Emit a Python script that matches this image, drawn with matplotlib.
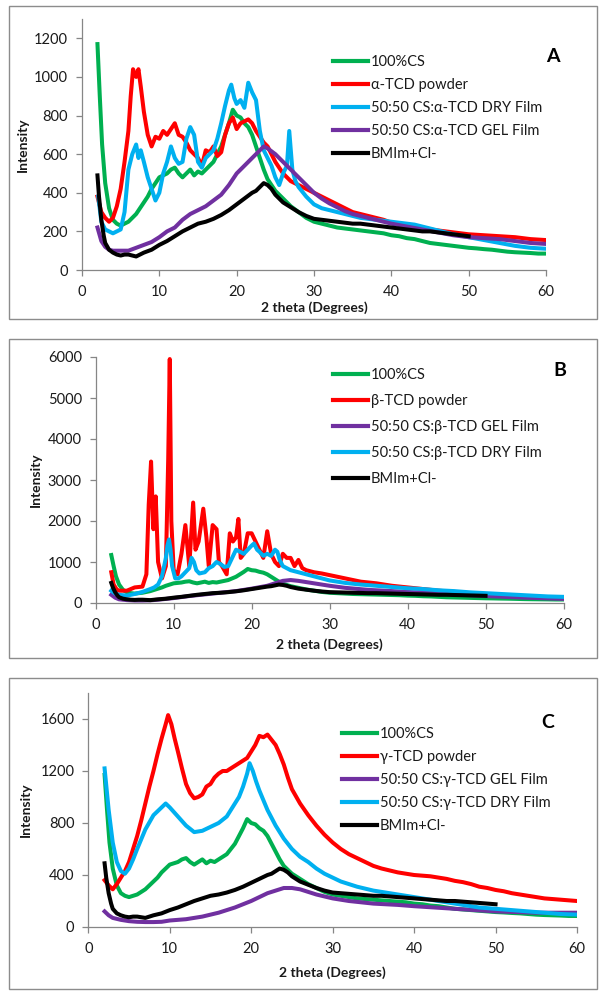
import matplotlib
matplotlib.use('Agg')
import matplotlib.pyplot as plt
from matplotlib.patches import Rectangle

plt.rcParams['font.family'] = ['Lato', 'DejaVu Sans']

# ---------------- data ----------------
# 100% chitosan (same trace in all panels)
cs_x = [2, 2.3, 2.6, 3, 3.5, 4, 4.5, 5, 5.5, 6,
        6.5, 7, 7.5, 8, 8.5, 9, 9.5, 10, 10.5, 11,
        11.5, 12, 12.5, 13, 13.5, 14, 14.5, 15, 15.5, 16,
        16.5, 17, 17.5, 18, 18.5, 19, 19.5, 20, 20.5, 21,
        21.5, 22, 22.5, 23, 23.5, 24, 24.5, 25, 26, 27,
        28, 29, 30, 31, 32, 33, 34, 35, 36, 37,
        38, 39, 40, 41, 42, 43, 44, 45, 46, 47,
        48, 49, 50, 51, 52, 53, 54, 55, 56, 57,
        58, 59, 60]
cs_y = [1170, 900, 650, 450, 320, 260, 240, 230, 240, 250,
        270, 290, 320, 350, 380, 420, 450, 480, 490, 500,
        520, 530, 500, 480, 500, 520, 490, 510, 500, 520,
        540, 560, 600, 640, 700, 760, 830, 800, 790, 760,
        740, 700, 640, 580, 520, 470, 440, 410, 370, 330,
        300, 270, 250, 240, 230, 220, 215, 210, 205, 200,
        195, 190, 180, 175, 165, 160, 150, 140, 135, 130,
        125, 120, 115, 112, 108, 105, 100, 95, 92, 90,
        88, 85, 85]

# BMIm+Cl- (same trace in all panels)
bm_x = [2, 2.2, 2.5, 2.8, 3, 3.5, 4, 4.5, 5, 5.5,
        6, 6.5, 7, 7.5, 8, 9, 10, 11, 12, 13,
        14, 15, 16, 17, 18, 19, 20, 21, 22, 22.5,
        23, 23.5, 24, 24.5, 25, 26, 27, 28, 29, 30,
        31, 32, 33, 34, 35, 36, 37, 38, 39, 40,
        41, 42, 43, 44, 45, 46, 47, 48, 49, 50]
bm_y = [490, 380, 260, 180, 140, 105, 90, 80, 75, 80,
        80, 75, 70, 80, 90, 105, 130, 150, 175, 200,
        220, 240, 250, 265, 285, 310, 340, 370, 400, 410,
        430, 450, 440, 420, 390, 350, 325, 300, 280, 265,
        260, 255, 250, 245, 240, 240, 235, 230, 225, 220,
        215, 210, 205, 200, 200, 195, 190, 185, 180, 175]

# Panel A
a_red_x = [2, 2.5, 3, 3.5, 4, 4.5, 5, 5.5, 6, 6.3,
           6.6, 7, 7.3, 7.6, 8, 8.5, 9, 9.5, 10, 10.5,
           11, 11.5, 12, 12.5, 13, 13.5, 14, 14.5, 15, 15.5,
           16, 16.5, 17, 17.5, 18, 18.5, 19, 19.5, 20, 20.5,
           21, 21.5, 22, 22.5, 23, 23.5, 24, 24.5, 25, 26,
           27, 28, 29, 30, 31, 32, 33, 34, 35, 36,
           37, 38, 39, 40, 41, 42, 43, 44, 45, 46,
           47, 48, 49, 50, 52, 54, 56, 58, 60]
a_red_y = [380, 300, 270, 250, 270, 330, 420, 560, 720, 900,
           1040, 1000, 1040, 950, 820, 700, 640, 690, 680, 720,
           700, 730, 760, 700, 690, 660, 620, 600, 580, 540,
           620, 610, 640, 590, 610, 700, 760, 790, 730, 760,
           770, 780, 760, 720, 690, 660, 640, 600, 560, 500,
           460, 440, 420, 400, 380, 360, 340, 320, 300, 290,
           280, 270, 260, 245, 240, 230, 225, 220, 210, 205,
           200, 195, 190, 185, 180, 175, 170, 160, 155]
a_dry_x = [2.1, 2.5, 3, 3.5, 4, 4.5, 5, 5.5, 6, 6.5,
           7, 7.3, 7.6, 8, 8.5, 9, 9.5, 10, 10.5, 11,
           11.5, 12, 12.5, 13, 13.5, 14, 14.5, 15, 15.5, 16,
           16.5, 17, 17.5, 18, 18.5, 19, 19.3, 19.7, 20, 20.5,
           21, 21.5, 22, 22.5, 23, 23.5, 24, 24.5, 25, 25.5,
           26, 26.5, 26.8, 27.2, 27.6, 28, 29, 30, 31, 32,
           33, 34, 35, 36, 37, 38, 39, 40, 41, 42,
           43, 44, 45, 46, 47, 48, 49, 50, 52, 54,
           56, 58, 60]
a_dry_y = [380, 250, 210, 200, 190, 200, 210, 300, 520, 600,
           650, 580, 620, 560, 480, 420, 360, 400, 500, 560,
           640, 580, 550, 560, 680, 740, 700, 560, 530, 580,
           600, 620, 680, 760, 850, 930, 960, 890, 860, 880,
           840, 970, 920, 880, 720, 620, 580, 540, 480, 440,
           500, 540, 720, 520, 460, 430, 380, 340, 320, 310,
           300, 290, 280, 270, 265, 260, 255, 250, 245, 240,
           235, 225, 215, 205, 195, 185, 178, 170, 155, 140,
           125, 115, 110]
a_gel_x = [2, 2.5, 3, 3.5, 4, 5, 6, 7, 8, 9,
           10, 11, 12, 13, 14, 15, 16, 17, 18, 19,
           20, 21, 22, 23, 23.5, 24, 25, 26, 27, 28,
           29, 30, 31, 32, 33, 34, 35, 36, 37, 38,
           39, 40, 42, 44, 46, 48, 50, 52, 54, 56,
           58, 60]
a_gel_y = [220, 150, 120, 105, 100, 100, 100, 115, 130, 145,
           170, 200, 220, 260, 290, 310, 330, 360, 390, 440,
           500, 540, 580, 620, 640, 630, 600, 560, 520, 480,
           440, 400, 370, 345, 325, 305, 290, 280, 270, 260,
           250, 240, 225, 210, 195, 180, 170, 165, 160, 150,
           140, 135]

# Panel B
b_red_x = [2, 2.3, 2.7, 3, 4, 5, 6, 6.5, 6.8, 7.1,
           7.4, 7.7, 8, 8.5, 9, 9.3, 9.5, 9.7, 10, 10.5,
           11, 11.5, 12, 12.5, 12.8, 13.2, 13.5, 13.8, 14.2, 14.5,
           15, 15.5, 15.8, 16.2, 16.8, 17.2, 17.6, 18, 18.3, 18.6,
           19, 19.5, 20, 20.5, 21, 21.5, 22, 22.5, 23, 23.5,
           24, 24.5, 25, 25.5, 26, 26.5, 27, 28, 29, 30,
           31, 32, 33, 34, 35, 36, 38, 40, 42, 44,
           46, 48, 50, 52, 54, 56, 58, 60]
b_red_y = [750, 450, 330, 300, 300, 380, 400, 700, 2400, 3450,
           1800, 2600, 1000, 600, 900, 3500, 5950, 2000, 800, 700,
           1200, 1900, 900, 2450, 1300, 1500, 1900, 2300, 1600, 900,
           1900, 1800, 1000, 900, 700, 1700, 1500, 1600, 2050, 1100,
           1200, 1700, 1700, 1500, 1300, 1100, 1750, 1200, 1000, 900,
           1200, 1100, 1100, 900, 1050, 850, 800, 750, 720, 680,
           640, 600, 560, 520, 500, 480, 420, 380, 340, 300,
           270, 230, 200, 180, 160, 145, 135, 130]
b_gel_x = [2, 2.5, 3, 4, 5, 6, 7, 8, 10, 12,
           14, 16, 18, 20, 22, 23, 24, 25, 26, 27,
           28, 30, 32, 35, 38, 40, 45, 50, 55, 60]
b_gel_y = [200, 130, 90, 70, 60, 60, 65, 80, 120, 170,
           210, 250, 290, 350, 420, 480, 540, 560, 540, 510,
           480, 420, 370, 320, 290, 270, 220, 170, 130, 100]
b_dry_x = [2, 2.5, 3, 4, 5, 6, 7, 7.5, 8, 8.5,
           9, 9.2, 9.4, 9.6, 9.8, 10.2, 10.6, 11, 11.5, 12,
           12.3, 12.6, 12.9, 13.3, 14, 14.5, 15, 15.5, 16, 16.5,
           17, 17.5, 18, 18.5, 19, 19.5, 20, 20.3, 20.7, 21,
           21.5, 22, 22.5, 23, 23.3, 23.6, 24, 25, 26, 27,
           28, 29, 30, 32, 34, 36, 38, 40, 42, 44,
           46, 48, 50, 52, 54, 56, 58, 60]
b_dry_y = [300, 230, 200, 180, 220, 270, 340, 380, 450, 650,
           1100, 1400, 1550, 1300, 900, 600, 600, 650, 750, 850,
           1100, 1000, 800, 720, 750, 850, 900, 1000, 950, 880,
           900, 1100, 1300, 1250, 1200, 1300, 1400, 1450, 1300, 1250,
           1150, 1200, 1150, 1300, 1250, 1050, 900, 800, 750, 700,
           650, 600, 550, 490, 450, 420, 390, 360, 340, 310,
           290, 260, 240, 220, 200, 180, 160, 150]

# Panel C
c_red_x = [2, 2.5, 3, 3.5, 4, 4.5, 5, 5.5, 6, 6.5,
           7, 7.5, 8, 8.5, 9, 9.5, 9.8, 10.2, 10.6, 11,
           11.5, 12, 12.5, 13, 13.5, 14, 14.5, 15, 15.5, 16,
           16.5, 17, 17.5, 18, 18.5, 19, 19.5, 20, 20.5, 21,
           21.5, 22, 22.5, 23, 23.5, 24, 24.5, 25, 26, 27,
           28, 29, 30, 31, 32, 33, 34, 35, 36, 37,
           38, 39, 40, 41, 42, 43, 44, 45, 46, 47,
           48, 49, 50, 51, 52, 53, 54, 55, 56, 57,
           58, 59, 60]
c_red_y = [360, 320, 290, 330, 380, 430, 500, 600, 700, 820,
           950, 1080, 1200, 1330, 1450, 1560, 1630, 1560, 1450, 1350,
           1220, 1100, 1030, 990, 1000, 1020, 1080, 1100, 1150, 1180,
           1200, 1200, 1220, 1240, 1260, 1280, 1300, 1350, 1400, 1470,
           1460, 1480, 1440, 1400, 1330, 1250, 1150, 1060, 950, 860,
           780, 710, 650, 600, 560, 530, 500, 470, 450, 435,
           420, 410, 400, 395, 390, 380, 370, 355, 345, 330,
           310, 300, 285, 275, 260, 250, 240, 230, 220, 215,
           210, 205, 200]
c_gel_x = [2, 2.5, 3, 4, 5, 6, 7, 8, 9, 10,
           12, 14, 16, 18, 20, 21, 22, 23, 24, 25,
           26, 27, 28, 30, 32, 35, 38, 40, 45, 50,
           55, 60]
c_gel_y = [120, 90, 70, 55, 45, 40, 38, 38, 40, 50,
           60, 80, 110, 150, 200, 230, 260, 280, 300, 300,
           290, 270, 250, 220, 200, 180, 170, 160, 140, 120,
           110, 110]
c_dry_x = [2, 2.5, 3, 3.5, 4, 4.5, 5, 5.5, 6, 7,
           8, 9, 9.5, 10, 11, 12, 13, 14, 15, 16,
           17, 18, 18.5, 19, 19.5, 19.8, 20.2, 20.6, 21, 22,
           23, 24, 25, 26, 27, 28, 29, 30, 31, 32,
           33, 34, 35, 36, 38, 40, 42, 44, 46, 48,
           50, 52, 54, 56, 58, 60]
c_dry_y = [1220, 900, 650, 500, 430, 410, 450, 520, 600, 750,
           860, 920, 950, 920, 850, 780, 730, 740, 770, 800,
           850, 950, 1000, 1080, 1180, 1260, 1200, 1120, 1050, 900,
           780, 680, 600, 540, 500, 450, 410, 380, 350, 330,
           310, 295, 280, 270, 250, 230, 210, 190, 170, 150,
           140, 130, 120, 110, 100, 95]

GREEN, RED, BLUE, PURPLE, BLACK = '#00B050', '#FF0000', '#00B0F0', '#7030A0', '#000000'

panels = [
    dict(letter='A', ylim=1300, yticks=[0, 200, 400, 600, 800, 1000, 1200],
         ax_px=(82, 19, 546, 270), box=(9, 6, 597, 319),
         series=[(cs_x, cs_y, GREEN, '100%CS'),
                 (a_red_x, a_red_y, RED, 'α-TCD powder'),
                 (a_dry_x, a_dry_y, BLUE, '50:50 CS:α-TCD DRY Film'),
                 (a_gel_x, a_gel_y, PURPLE, '50:50 CS:α-TCD GEL Film'),
                 (bm_x, bm_y, BLACK, 'BMIm+Cl-')],
         leg=(333, 55), legsp=0.62, letter_px=(553, 56), ylab_x=22.5, xlab_y=308),
    dict(letter='B', ylim=6000, yticks=[0, 1000, 2000, 3000, 4000, 5000, 6000],
         ax_px=(95.7, 357, 563.5, 603), box=(9, 339, 597, 658),
         series=[(cs_x, cs_y, GREEN, '100%CS'),
                 (b_red_x, b_red_y, RED, 'β-TCD powder'),
                 (b_gel_x, b_gel_y, PURPLE, '50:50 CS:β-TCD GEL Film'),
                 (b_dry_x, b_dry_y, BLUE, '50:50 CS:β-TCD DRY Film'),
                 (bm_x, bm_y, BLACK, 'BMIm+Cl-')],
         leg=(333, 368), legsp=0.83, letter_px=(560, 371), ylab_x=35.7, xlab_y=645),
    dict(letter='C', ylim=1800, yticks=[0, 400, 800, 1200, 1600],
         ax_px=(88.3, 693, 577, 927), box=(9, 678, 597, 989),
         series=[(cs_x, cs_y, GREEN, '100%CS'),
                 (c_red_x, c_red_y, RED, 'γ-TCD powder'),
                 (c_gel_x, c_gel_y, PURPLE, '50:50 CS:γ-TCD GEL Film'),
                 (c_dry_x, c_dry_y, BLUE, '50:50 CS:γ-TCD DRY Film'),
                 (bm_x, bm_y, BLACK, 'BMIm+Cl-')],
         leg=(342, 727), legsp=0.62, letter_px=(548, 722), ylab_x=25.8, xlab_y=973),
]

W, H = 601, 999
fig = plt.figure(figsize=(W / 100, H / 100), dpi=100)
fig.patch.set_facecolor('white')

SPINE = '#868686'
TXT = '#1a1a1a'

for p in panels:
    l, t, r, b = p['box']
    fig.add_artist(Rectangle((l / W, 1 - b / H), (r - l) / W, (b - t) / H,
                             transform=fig.transFigure, fill=False,
                             edgecolor='#8c8c8c', linewidth=1.0))
    al, at, ar, ab = p['ax_px']
    ax = fig.add_axes([al / W, 1 - ab / H, (ar - al) / W, (ab - at) / H])
    ax.set_facecolor('none')
    for xs, ys, col, lab in p['series']:
        ax.plot(xs, ys, color=col, lw=2.9, label=lab, solid_joinstyle='round')
    ax.set_xlim(0, 60)
    ax.set_ylim(0, p['ylim'])
    ax.set_xticks(range(0, 61, 10))
    ax.set_yticks(p['yticks'])
    for s in ['top', 'right']:
        ax.spines[s].set_visible(False)
    for s in ['left', 'bottom']:
        ax.spines[s].set_color(SPINE)
        ax.spines[s].set_linewidth(0.9)
    ax.tick_params(axis='both', colors=SPINE, labelcolor=TXT, labelsize=10.5,
                   length=4, width=0.9, direction='out')
    ax.tick_params(axis='y', pad=6)
    ax.tick_params(axis='x', pad=7)
    ax.set_xlabel('2 theta (Degrees)', fontsize=10, fontweight='bold', color=TXT)
    ax.set_ylabel('Intensity', fontsize=10, fontweight='bold', color=TXT)
    axw = ar - al
    axh = ab - at
    ax.xaxis.set_label_coords(0.5, (ab - p['xlab_y']) / axh)
    ax.xaxis.label.set_va('center')
    ax.yaxis.set_label_coords((p['ylab_x'] - al) / axw, 0.5)
    ax.yaxis.label.set_va('center')
    lx, ly = p['leg']
    ax.legend(loc='upper left', bbox_to_anchor=(lx / W, 1 - ly / H),
              bbox_transform=fig.transFigure, frameon=False, fontsize=10.5,
              borderpad=0, borderaxespad=0, handlelength=2.4, handletextpad=0.2,
              labelspacing=p['legsp'], labelcolor=TXT)
    for line in ax.get_legend().get_lines():
        line.set_linewidth(3.0)
    lpx, lpy = p['letter_px']
    fig.text(lpx / W, 1 - lpy / H, p['letter'], fontsize=14, fontweight='bold',
             ha='center', va='center', color='black')

fig.savefig('out.png', dpi=100, facecolor='white')
